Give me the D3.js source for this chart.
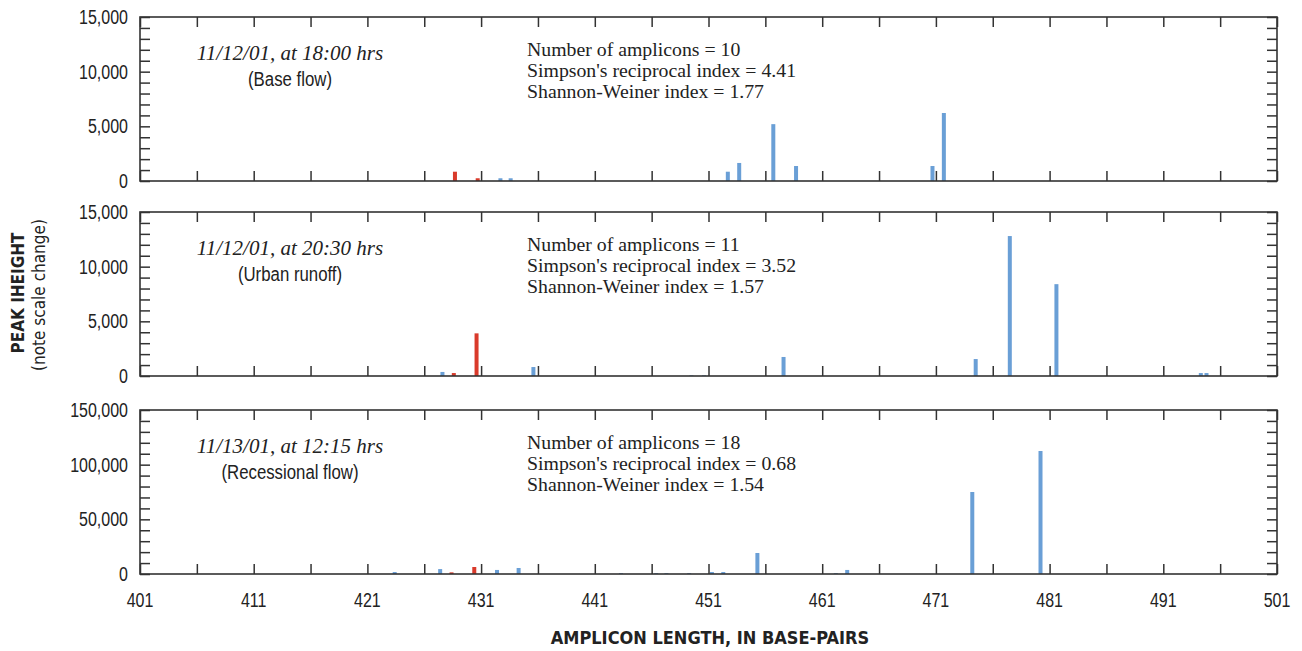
<!DOCTYPE html>
<html><head><meta charset="utf-8">
<script src="https://cdn.jsdelivr.net/npm/d3@7"></script>
<style>
body{margin:0;background:#fff;}
svg{display:block;}
.sans{font-family:"Liberation Sans",Arial,sans-serif;}
.cond{font-family:"DejaVu Sans Condensed","Liberation Sans",sans-serif;}
.serif{font-family:"Liberation Serif","Times New Roman",serif;}
</style></head>
<body>
<svg id="c" width="1302" height="651"></svg>
<script>
// ---------- DATA ----------
const xTickValues = d3.range(401, 502, 5);
const xLabelValues = d3.range(401, 502, 10);
const xTickLabels = ["401","411","421","431","441","451","461","471","481","491","501"];

const p1Titles = ["11/12/01, at 18:00 hrs", "(Base flow)"];
const p2Titles = ["11/12/01, at 20:30 hrs", "(Urban runoff)"];
const p3Titles = ["11/13/01, at 12:15 hrs", "(Recessional flow)"];

const p1Stats = ["Number of amplicons = 10", "Simpson's reciprocal index = 4.41", "Shannon-Weiner index = 1.77"];
const p2Stats = ["Number of amplicons = 11", "Simpson's reciprocal index = 3.52", "Shannon-Weiner index = 1.57"];
const p3Stats = ["Number of amplicons = 18", "Simpson's reciprocal index = 0.68", "Shannon-Weiner index = 1.54"];

// amplicon length (bp) and peak height
const p1RedBp  = [428.7, 430.7];
const p1RedHt  = [850, 250];
const p1BlueBp = [432.7, 433.6, 452.7, 453.7, 456.7, 458.7, 470.7, 471.7];
const p1BlueHt = [250, 250, 850, 1650, 5200, 1370, 1370, 6220];

const p2RedBp  = [428.6, 430.6];
const p2RedHt  = [270, 3900];
const p2BlueBp = [427.6, 435.6, 449.5, 450.6, 457.6, 474.5, 477.5, 481.6, 494.3, 494.8];
const p2BlueHt = [370, 820, 60, 60, 1740, 1550, 12800, 8400, 270, 270];

const p3RedBp  = [428.4, 430.4];
const p3RedHt  = [1500, 6400];
const p3BlueBp = [423.4, 427.4, 432.4, 434.3, 443.3, 446.4, 447.3, 449.3, 451.3, 452.3, 455.3, 462.2, 463.2, 474.2, 480.2];
const p3BlueHt = [1800, 4500, 3700, 5500, 800, 800, 800, 800, 1800, 1800, 19200, 800, 3700, 75000, 112500];

const p1YMax = 15000, p2YMax = 15000, p3YMax = 150000;
const p1YMajor = [0, 5000, 10000, 15000];
const p3YMajor = [0, 50000, 100000, 150000];

// ---------- LAYOUT ----------
const svg = d3.select("#c");
const X0 = 140, X1 = 1277;
const panelH = 164;
const panelTops = [17, 212, 410];
const BLUE = "#6a9fd6", RED = "#d93a2b", AXIS = "#333", TXT = "#222";

const x = d3.scaleLinear().domain([401, 501]).range([X0, X1]);

function narrowText(parent, tx, ty, str, size, anchor, squeeze) {
  return parent.append("text").attr("class", "sans")
    .attr("transform", `translate(${tx},${ty}) scale(${squeeze || 0.8},1)`)
    .attr("text-anchor", anchor || "start")
    .attr("font-size", size).attr("fill", TXT).text(str);
}

const panels = [
  {top: panelTops[0], ymax: p1YMax, major: p1YMajor, step: 1000, titles: p1Titles, stats: p1Stats,
   red: p1RedBp.map((b,i)=>({bp:b, h:p1RedHt[i]})), blue: p1BlueBp.map((b,i)=>({bp:b, h:p1BlueHt[i]}))},
  {top: panelTops[1], ymax: p2YMax, major: p1YMajor, step: 1000, titles: p2Titles, stats: p2Stats,
   red: p2RedBp.map((b,i)=>({bp:b, h:p2RedHt[i]})), blue: p2BlueBp.map((b,i)=>({bp:b, h:p2BlueHt[i]}))},
  {top: panelTops[2], ymax: p3YMax, major: p3YMajor, step: 10000, titles: p3Titles, stats: p3Stats,
   red: p3RedBp.map((b,i)=>({bp:b, h:p3RedHt[i]})), blue: p3BlueBp.map((b,i)=>({bp:b, h:p3BlueHt[i]}))}
];

const barW = 4;
const fmt = d3.format(",");

panels.forEach((p, pi) => {
  const g = svg.append("g");
  const y = d3.scaleLinear().domain([0, p.ymax]).range([p.top + panelH, p.top]);
  const minor = d3.range(0, p.ymax + 1, p.step);

  const drawBars = (data, color) => {
    g.append("g").selectAll("rect").data(data).join("rect")
      .attr("x", d => x(d.bp) - barW/2)
      .attr("width", barW)
      .attr("y", d => y(d.h))
      .attr("height", d => y(0) - y(d.h))
      .attr("fill", color);
  };
  drawBars(p.blue, BLUE);
  drawBars(p.red, RED);

  const tl = g.append("g").attr("transform", `translate(${X0},0)`)
    .call(d3.axisRight(y).tickValues(minor).tickSize(10).tickFormat(""));
  const tr = g.append("g").attr("transform", `translate(${X1},0)`)
    .call(d3.axisLeft(y).tickValues(minor).tickSize(10).tickFormat(""));
  const tb = g.append("g").attr("transform", `translate(0,${p.top + panelH})`)
    .call(d3.axisTop(x).tickValues(xTickValues).tickSize(10).tickFormat(""));
  const tt = g.append("g").attr("transform", `translate(0,${p.top})`)
    .call(d3.axisBottom(x).tickValues(xTickValues).tickSize(10).tickFormat(""));
  [tl, tr, tb, tt].forEach(a => {
    a.select(".domain").remove();
    a.selectAll("line").attr("stroke", AXIS).attr("stroke-width", 1.5);
  });

  g.append("rect").attr("x", X0).attr("y", p.top).attr("width", X1 - X0).attr("height", panelH)
    .attr("fill", "none").attr("stroke", AXIS).attr("stroke-width", 1.6);

  p.major.forEach(v => narrowText(g, X0 - 12, y(v) + 7, fmt(v), 20, "end", 0.8));

  const yOff = p.top - panelTops[0];
  g.append("text").attr("class", "serif").attr("font-style", "italic")
    .attr("x", 290).attr("y", 60 + yOff).attr("text-anchor", "middle")
    .attr("font-size", 21).attr("fill", TXT).text(p.titles[0]);
  narrowText(g, 290, 86 + yOff, p.titles[1], 21, "middle", 0.8);

  p.stats.forEach((s, i) => {
    g.append("text").attr("class", "serif")
      .attr("x", 527).attr("y", 56 + i * 21 + yOff)
      .attr("font-size", 19.8).attr("fill", TXT).text(s);
  });
});

xLabelValues.forEach((v, i) => narrowText(svg, x(v), 607, xTickLabels[i], 20, "middle", 0.8));

svg.append("text").attr("class", "cond").attr("font-weight", "bold")
  .attr("x", 710).attr("y", 644).attr("text-anchor", "middle")
  .attr("font-size", 18).attr("fill", TXT).text("AMPLICON LENGTH, IN BASE-PAIRS");

svg.append("text").attr("class", "cond").attr("font-weight", "bold")
  .attr("transform", "translate(24,293) rotate(-90)").attr("text-anchor", "middle")
  .attr("font-size", 17).attr("fill", TXT).text("PEAK IHEIGHT");
svg.append("text").attr("class", "cond")
  .attr("transform", "translate(45,295) rotate(-90)").attr("text-anchor", "middle")
  .attr("font-size", 17).attr("fill", TXT).text("(note scale change)");
</script>
</body></html>
